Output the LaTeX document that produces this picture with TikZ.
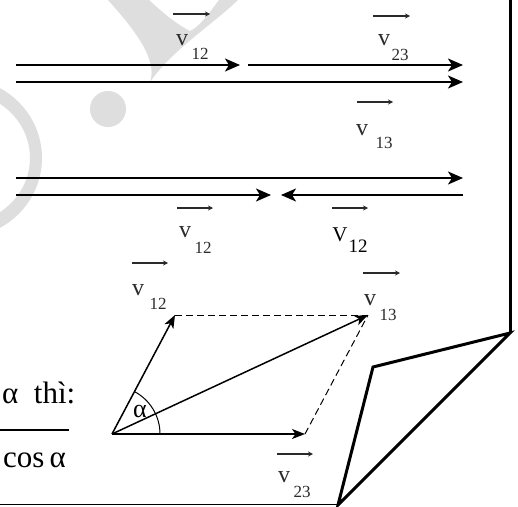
\documentclass[tikz,border=0pt]{standalone}
\usepackage{fontspec}
\setmainfont{Liberation Serif}
\usetikzlibrary{arrows.meta}
\definecolor{wm}{HTML}{DEDEDE}
\definecolor{lab}{HTML}{2A2A2A}
\tikzset{
 big/.style={line width=1.9pt,-{Stealth[length=15pt,width=13pt,inset=4pt]}},
 vec/.style={line width=1.5pt,-{Stealth[length=13pt,width=10pt,inset=3.5pt]}},
 dsh/.style={line width=1pt,dash pattern=on 7pt off 4pt},
 lbarrow/.style={line width=1.2pt,lab,-{Stealth[length=5pt,width=5pt]}},
 vlet/.style={inner sep=0pt,font=\fontsize{24}{24}\selectfont,text=lab},
 vsub/.style={inner sep=0pt,font=\fontsize{17}{17}\selectfont,text=lab},
 fold/.style={line width=3pt,line join=miter},
 bigtxt/.style={inner sep=0pt,font=\fontsize{31}{31}\selectfont},
}
\begin{document}
\begin{tikzpicture}[x=1pt,y=-1pt]
\useasboundingbox (0,0) rectangle (518,506);
\fill[white] (0,0) rectangle (518,506);
\begin{scope}
\clip (0,0) rectangle (518,506);
% watermark
\fill[wm] (108,0) .. controls (135,30) and (158,60) .. (150,82)
  .. controls (172,50) and (212,25) .. (238,0) -- (219,0)
  .. controls (208,15) and (198,28) .. (190,31)
  .. controls (176,24) and (162,12) .. (149,0) -- cycle;
\fill[wm] (108,109) circle[radius=18];
\fill[wm,even odd rule] (-40,158) ellipse[x radius=82,y radius=80]
  (-40,158) ellipse[x radius=70,y radius=66];
\end{scope}

% horizontal rows
\coordinate (r1a) at (16,65);  \coordinate (r1b) at (240,65);
\coordinate (r1c) at (248,65); \coordinate (r1d) at (463,65);
\coordinate (r2a) at (16,82);  \coordinate (r2b) at (463,82);
\coordinate (r3a) at (16,178); \coordinate (r3b) at (463,178);
\coordinate (r4a) at (16,195); \coordinate (r4b) at (271,195);
\coordinate (r4c) at (463,195); \coordinate (r4d) at (281,195);
\draw[big] (r1a) -- (r1b);
\draw[big] (r1c) -- (r1d);
\draw[big] (r2a) -- (r2b);
\draw[big] (r3a) -- (r3b);
\draw[big] (r4a) -- (r4b);
\draw[big] (r4c) -- (r4d);

% labels rows
\coordinate (la1) at (173,14); \coordinate (lb1) at (210,14);
\draw[lbarrow] (la1) -- (lb1);
\node[vlet] (v1) at (182,40) {v};
\node[vsub] (s1) at (200,54) {12};

\coordinate (la2) at (373,16); \coordinate (lb2) at (410,16);
\draw[lbarrow] (la2) -- (lb2);
\node[vlet] (v2) at (384,40) {v};
\node[vsub] (s2) at (400,55) {23};

\coordinate (la3) at (357,102); \coordinate (lb3) at (393,102);
\draw[lbarrow] (la3) -- (lb3);
\node[vlet] (v3) at (362,130) {v};
\node[vsub] (s3) at (384,143) {13};

\coordinate (la4) at (177,208); \coordinate (lb4) at (213,208);
\draw[lbarrow] (la4) -- (lb4);
\node[vlet] (v4) at (185,232) {v};
\node[vsub] (s4) at (203,248) {12};

\coordinate (la5) at (332,208); \coordinate (lb5) at (368,208);
\draw[lbarrow] (la5) -- (lb5);
\node[inner sep=0pt,font=\fontsize{21}{21}\selectfont] (v5) at (340,235) {V};
\node[inner sep=0pt,font=\fontsize{19}{19}\selectfont] (s5) at (358,246) {12};

% parallelogram
\coordinate (O) at (112,434);
\coordinate (A) at (175,315);
\coordinate (B) at (305,434);
\coordinate (C) at (368,315);
\draw[dsh] (A) -- (C);
\draw[dsh] (B) -- (C);
\draw[vec] (O) -- (A);
\draw[vec] (O) -- (B);
\draw[vec] (O) -- (C);
\draw[line width=1pt] (O) ++(48,0) arc[start angle=0,end angle=-62,radius=48];
\node[inner sep=0pt,font=\fontsize{26}{26}\selectfont] (al) at (140,411) {α};

\coordinate (la6) at (132,263); \coordinate (lb6) at (168,263);
\draw[lbarrow] (la6) -- (lb6);
\node[vlet] (v6) at (138,290) {v};
\node[vsub] (s6) at (158,304) {12};

\coordinate (la7) at (363,273); \coordinate (lb7) at (400,273);
\draw[lbarrow] (la7) -- (lb7);
\node[vlet] (v7) at (370,300) {v};
\node[vsub] (s7) at (388,315) {13};

\coordinate (la8) at (277,454); \coordinate (lb8) at (313,454);
\draw[lbarrow] (la8) -- (lb8);
\node[vlet] (v8) at (284,477) {v};
\node[vsub] (s8) at (302,492) {23};

% left formula fragment
\node[bigtxt,anchor=base west] (thi) at (2,403) {α\ \ thì:};
\coordinate (fl1) at (0,430); \coordinate (fl2) at (69,430);
\draw[line width=1.5pt] (fl1) -- (fl2);
\node[bigtxt,anchor=base east] (cosa) at (66,467) {cos\,α};

% page fold
\coordinate (top) at (510,-5);
\coordinate (P1) at (510,333);
\coordinate (P2) at (373,367);
\coordinate (P3) at (338,505);
\coordinate (bl) at (0,504);
\coordinate (br) at (338,504);
\draw[line width=1pt] (bl) -- (br);
\draw[fold,fill=white] (P1) -- (P2) -- (P3) -- cycle;
\draw[fold] (top) -- (P1);
\end{tikzpicture}
\end{document}
